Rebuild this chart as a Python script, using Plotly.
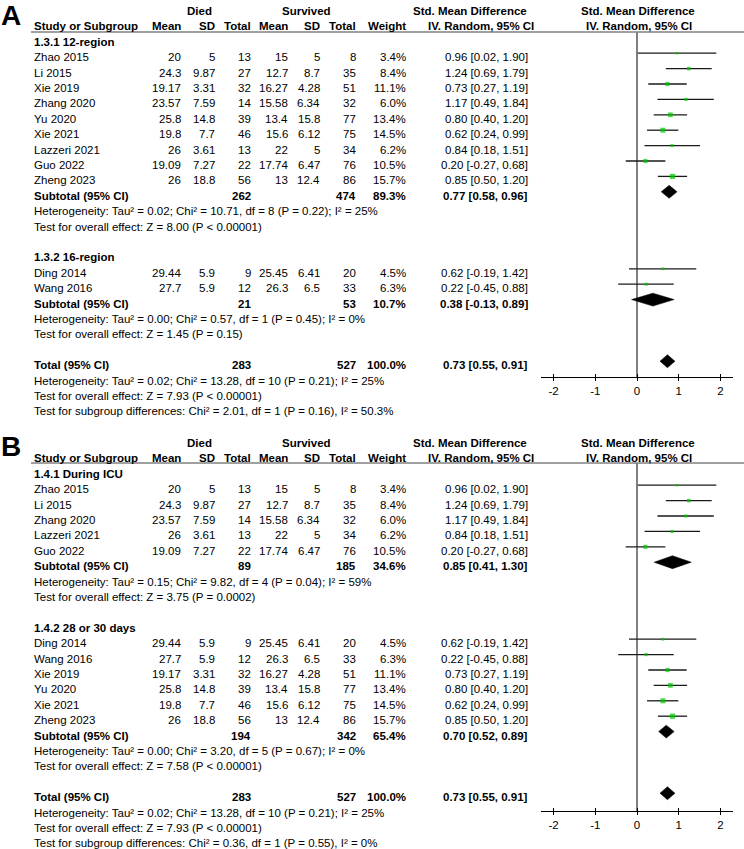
import plotly.graph_objects as go

W, H = 744, 849

# ---------------- data ----------------
studies = ["Zhao 2015", "Li 2015", "Xie 2019", "Zhang 2020", "Yu 2020", "Xie 2021",
           "Lazzeri 2021", "Guo 2022", "Zheng 2023", "Ding 2014", "Wang 2016"]
died_mean = [20, 24.3, 19.17, 23.57, 25.8, 19.8, 26, 19.09, 26, 29.44, 27.7]
died_sd = [5, 9.87, 3.31, 7.59, 14.8, 7.7, 3.61, 7.27, 18.8, 5.9, 5.9]
died_n = [13, 27, 32, 14, 39, 46, 13, 22, 56, 9, 12]
surv_mean = [15, 12.7, 16.27, 15.58, 13.4, 15.6, 22, 17.74, 13, 25.45, 26.3]
surv_sd = [5, 8.7, 4.28, 6.34, 15.8, 6.12, 5, 6.47, 12.4, 6.41, 6.5]
surv_n = [8, 35, 51, 32, 77, 75, 34, 76, 86, 20, 33]
weight = [3.4, 8.4, 11.1, 6.0, 13.4, 14.5, 6.2, 10.5, 15.7, 4.5, 6.3]
smd = [0.96, 1.24, 0.73, 1.17, 0.80, 0.62, 0.84, 0.20, 0.85, 0.62, 0.22]
ci_lo = [0.02, 0.69, 0.27, 0.49, 0.40, 0.24, 0.18, -0.27, 0.50, -0.19, -0.45]
ci_hi = [1.90, 1.79, 1.19, 1.84, 1.20, 0.99, 1.51, 0.68, 1.20, 1.42, 0.88]

# Panel A subgroups
a_labels = ["1.3.1 12-region", "1.3.2 16-region"]
a_members = [["Zhao 2015", "Li 2015", "Xie 2019", "Zhang 2020", "Yu 2020", "Xie 2021",
              "Lazzeri 2021", "Guo 2022", "Zheng 2023"],
             ["Ding 2014", "Wang 2016"]]
a_died_n = [262, 21]
a_surv_n = [474, 53]
a_weight = [89.3, 10.7]
a_smd = [0.77, 0.38]
a_lo = [0.58, -0.13]
a_hi = [0.96, 0.89]
a_het = ["Heterogeneity: Tau² = 0.02; Chi² = 10.71, df = 8 (P = 0.22); I² = 25%",
         "Heterogeneity: Tau² = 0.00; Chi² = 0.57, df = 1 (P = 0.45); I² = 0%"]
a_z = ["Test for overall effect: Z = 8.00 (P < 0.00001)",
       "Test for overall effect: Z = 1.45 (P = 0.15)"]
a_subdiff = "Test for subgroup differences: Chi² = 2.01, df = 1 (P = 0.16), I² = 50.3%"

# Panel B subgroups
b_labels = ["1.4.1 During ICU", "1.4.2 28 or 30 days"]
b_members = [["Zhao 2015", "Li 2015", "Zhang 2020", "Lazzeri 2021", "Guo 2022"],
             ["Ding 2014", "Wang 2016", "Xie 2019", "Yu 2020", "Xie 2021", "Zheng 2023"]]
b_died_n = [89, 194]
b_surv_n = [185, 342]
b_weight = [34.6, 65.4]
b_smd = [0.85, 0.70]
b_lo = [0.41, 0.52]
b_hi = [1.30, 0.89]
b_het = ["Heterogeneity: Tau² = 0.15; Chi² = 9.82, df = 4 (P = 0.04); I² = 59%",
         "Heterogeneity: Tau² = 0.00; Chi² = 3.20, df = 5 (P = 0.67); I² = 0%"]
b_z = ["Test for overall effect: Z = 3.75 (P = 0.0002)",
       "Test for overall effect: Z = 7.58 (P < 0.00001)"]
b_subdiff = "Test for subgroup differences: Chi² = 0.36, df = 1 (P = 0.55), I² = 0%"

# Overall
total_died_n = 283
total_surv_n = 527
total_weight = 100.0
total_smd = 0.73
total_lo = 0.55
total_hi = 0.91
total_het = "Heterogeneity: Tau² = 0.02; Chi² = 13.28, df = 10 (P = 0.21); I² = 25%"
total_z = "Test for overall effect: Z = 7.93 (P < 0.00001)"

tick_vals = [-2, -1, 0, 1, 2]
tick_text = ["-2", "-1", "0", "1", "2"]

# ---------------- layout constants ----------------
FONT = "Liberation Sans, Arial, sans-serif"
FS = 11.5
ROW = 15.4
X_STUDY = 32
X_DM, X_DSD, X_DN = 183, 217, 253
X_SM, X_SSD, X_SN = 290, 322, 358
X_W, X_CI = 408, 530
X_DIED_C, X_SURV_C = 199, 306
X_SMD_C, X_IV_C = 470, 481
X_PLOT_C = 638
FX0, FX1 = 541, 733
XR = 2.3
SQ_GREEN = "#00c800"
CI_COL = "#1a1a1a"

fig = go.Figure()
annotations = []
shapes = []


def fmt(v):
    return f"{v:g}"


def txt(s, x, ypx, anchor="left", bold=False, size=FS):
    if bold:
        s = "<b>" + s + "</b>"
    annotations.append(dict(text=s, x=x / W, y=1 - ypx / H, xref="paper", yref="paper",
                            xanchor=anchor, yanchor="middle", showarrow=False,
                            font=dict(family=FONT, size=size, color="black")))


def ci_str(e, lo, hi):
    return f"{e:.2f} [{lo:.2f}, {hi:.2f}]"


def panel(letter, base, top_px, bot_px, xa, ya, labels, members, gd, gs, gw, ge, glo, ghi,
          ghet, gz, subdiff, tick_axis):
    rowy = lambda k: base + ROW * k
    # letter
    txt(letter, -1, base + 4, "left", True, 28)
    # headers
    txt("Died", X_DIED_C, rowy(0), "center", True)
    txt("Survived", X_SURV_C, rowy(0), "center", True)
    txt("Std. Mean Difference", X_SMD_C, rowy(0), "center", True)
    txt("Std. Mean Difference", X_PLOT_C, rowy(0), "center", True)
    txt("Study or Subgroup", X_STUDY, rowy(1), "left", True)
    for s, x in [("Mean", X_DM), ("SD", X_DSD), ("Total", X_DN), ("Mean", X_SM),
                 ("SD", X_SSD), ("Total", X_SN), ("Weight", X_W)]:
        txt(s, x, rowy(1), "right", True)
    txt("IV. Random, 95% CI", X_IV_C, rowy(1), "center", True)
    txt("IV. Random, 95% CI", X_PLOT_C + 1, rowy(1), "center", True)
    shapes.append(dict(type="line", xref="paper", yref="paper", x0=31 / W, x1=1,
                       y0=1 - top_px / H, y1=1 - top_px / H,
                       line=dict(color="#808080", width=1.5)))

    k = 2
    sq_x, sq_y, sq_s, sq_p, sq_m = [], [], [], [], []
    dia = []
    for gi in range(len(labels)):
        txt(labels[gi], X_STUDY, rowy(k), "left", True)
        k += 1
        for name in members[gi]:
            i = studies.index(name)
            y = rowy(k)
            txt(name, X_STUDY, y)
            txt(fmt(died_mean[i]), X_DM, y, "right")
            txt(fmt(died_sd[i]), X_DSD, y, "right")
            txt(fmt(died_n[i]), X_DN, y, "right")
            txt(fmt(surv_mean[i]), X_SM, y, "right")
            txt(fmt(surv_sd[i]), X_SSD, y, "right")
            txt(fmt(surv_n[i]), X_SN, y, "right")
            txt(f"{weight[i]:.1f}%", X_W, y, "right")
            txt(ci_str(smd[i], ci_lo[i], ci_hi[i]), X_CI, y, "right")
            sq_x.append(smd[i]); sq_y.append(k)
            sq_s.append(1.8 + 0.22 * weight[i])
            sq_p.append(ci_hi[i] - smd[i]); sq_m.append(smd[i] - ci_lo[i])
            k += 1
        y = rowy(k)
        txt("Subtotal (95% CI)", X_STUDY, y, "left", True)
        txt(fmt(gd[gi]), X_DN, y, "right", True)
        txt(fmt(gs[gi]), X_SN, y, "right", True)
        txt(f"{gw[gi]:.1f}%", X_W, y, "right", True)
        txt(ci_str(ge[gi], glo[gi], ghi[gi]), X_CI, y, "right", True)
        dia.append((ge[gi], glo[gi], ghi[gi], k))
        k += 1
        txt(ghet[gi], X_STUDY, rowy(k)); k += 1
        txt(gz[gi], X_STUDY, rowy(k)); k += 2
    y = rowy(k)
    txt("Total (95% CI)", X_STUDY, y, "left", True)
    txt(fmt(total_died_n), X_DN, y, "right", True)
    txt(fmt(total_surv_n), X_SN, y, "right", True)
    txt(f"{total_weight:.1f}%", X_W, y, "right", True)
    txt(ci_str(total_smd, total_lo, total_hi), X_CI, y, "right", True)
    dia.append((total_smd, total_lo, total_hi, k))
    k += 1
    txt(total_het, X_STUDY, rowy(k)); k += 1
    txt(total_z, X_STUDY, rowy(k)); k += 1
    txt(subdiff, X_STUDY, rowy(k))

    yname = "y" if ya == "yaxis" else "y" + ya[5:]
    xname = "x" if xa == "xaxis" else "x" + xa[5:]
    fig.add_trace(go.Scatter(
        x=sq_x, y=sq_y, mode="markers", xaxis=xname, yaxis=yname,
        marker=dict(symbol="square", size=sq_s, color=SQ_GREEN, line=dict(width=0)),
        error_x=dict(type="data", symmetric=False, array=sq_p, arrayminus=sq_m,
                     width=0, thickness=1.3, color=CI_COL),
        showlegend=False, hoverinfo="skip"))
    h = 0.42
    for e, lo, hi, kk in dia:
        fig.add_trace(go.Scatter(
            x=[lo, e, hi, e, lo], y=[kk, kk - h, kk, kk + h, kk], mode="lines",
            fill="toself", fillcolor="black", line=dict(color="black", width=0.5),
            xaxis=xname, yaxis=yname, showlegend=False, hoverinfo="skip"))
    # invisible trace for tick overlay axis
    tname = "x" + tick_axis[5:]
    fig.add_trace(go.Scatter(x=[0], y=[None], xaxis=tname, yaxis=yname, mode="markers",
                             showlegend=False, hoverinfo="skip"))

    k_top = (top_px - (base - 4)) / ROW
    k_bot = (bot_px - (base - 4)) / ROW
    dom_y = [1 - bot_px / H, 1 - top_px / H]
    dom_x = [FX0 / W, FX1 / W]
    fig.layout[ya] = dict(domain=dom_y, range=[k_bot, k_top], visible=False,
                          anchor=xname, fixedrange=True)
    fig.layout[xa] = dict(domain=dom_x, range=[-XR, XR], anchor=yname,
                          showline=True, linecolor="black", linewidth=1,
                          ticks="outside", ticklen=3, tickcolor="black", tickwidth=1,
                          tickvals=tick_vals, ticktext=tick_text,
                          tickfont=dict(family=FONT, size=FS, color="black"),
                          showgrid=False, zeroline=True, zerolinecolor="#808080",
                          zerolinewidth=1.5)
    fig.layout[tick_axis] = dict(overlaying=xname, anchor=yname, range=[-XR, XR],
                                 ticks="inside", ticklen=3, tickcolor="black", tickwidth=1,
                                 tickvals=tick_vals, showticklabels=False,
                                 showline=False, showgrid=False, zeroline=False,
                                 side="bottom")


panel("A", 11, 32, 377, "xaxis", "yaxis", a_labels, a_members, a_died_n, a_surv_n,
      a_weight, a_smd, a_lo, a_hi, a_het, a_z, a_subdiff, "xaxis3")
panel("B", 443, 463, 811, "xaxis2", "yaxis2", b_labels, b_members, b_died_n, b_surv_n,
      b_weight, b_smd, b_lo, b_hi, b_het, b_z, b_subdiff, "xaxis4")

fig.update_layout(width=W, height=H, margin=dict(l=0, r=0, t=0, b=0),
                  paper_bgcolor="white", plot_bgcolor="white",
                  annotations=annotations, shapes=shapes, showlegend=False,
                  font=dict(family=FONT, size=FS, color="black"))

fig.write_html("out.html", config={"displayModeBar": False, "staticPlot": True},
               post_script="document.body.style.margin='0px';"
                           "document.body.style.overflow='hidden';")
